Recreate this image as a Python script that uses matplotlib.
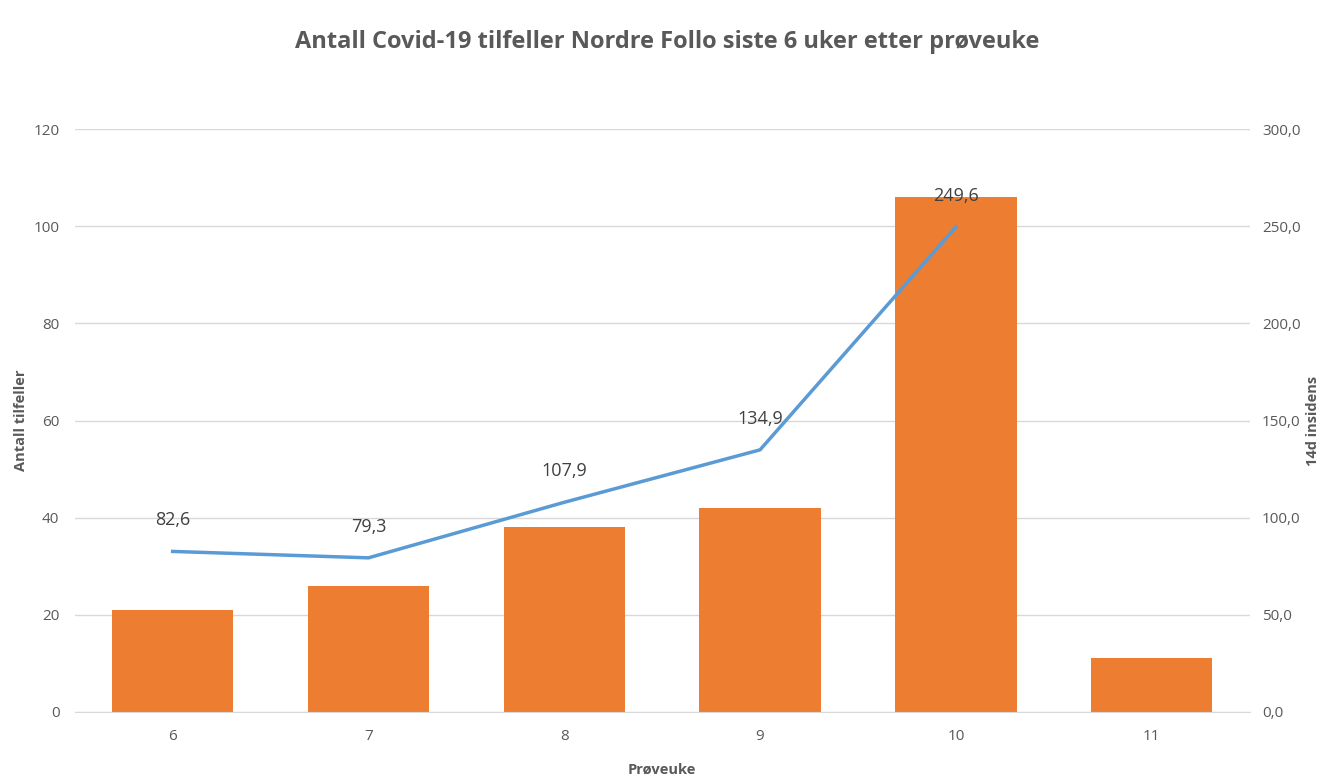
import numpy as np
import matplotlib.pyplot as plt

# Data
uker = ["6", "7", "8", "9", "10", "11"]
tilfeller = [21, 26, 38, 42, 106, 11]
insidens = [82.6, 79.3, 107.9, 134.9, 249.6]

grå = "#595959"
plt.rcParams['font.family'] = ['Open Sans', 'DejaVu Sans']

fig = plt.figure(figsize=(13.35, 7.78), dpi=100)
ax = fig.add_axes([0.056, 0.085, 0.880, 0.749])
ax2 = ax.twinx()

x = np.arange(len(uker))
ax.bar(x, tilfeller, width=0.62, color="#ed7d31", zorder=2)
ax.set_ylim(0, 120)
ax.set_yticks(range(0, 121, 20))
ax.set_xlim(-0.5, len(uker) - 0.5)
ax.set_xticks(x)
ax.set_xticklabels(uker)
ax.grid(axis="y", color="#d9d9d9", linewidth=1, zorder=0)
ax.set_axisbelow(True)

xl = x[:len(insidens)]
ax2.plot(xl, insidens, color="#5b9bd5", linewidth=2.5, zorder=3)
for xi, v in zip(xl, insidens):
    ax2.annotate(f"{v:.1f}".replace(".", ","), (xi, v), xytext=(0, 16),
                 textcoords="offset points", ha="center", va="bottom",
                 fontsize=13, color="#404040")
ax2.set_ylim(0, 300)
ax2.set_yticks(range(0, 301, 50))
ax2.set_yticklabels([f"{t},0" for t in range(0, 301, 50)])

for a in (ax, ax2):
    for s in a.spines.values():
        s.set_visible(False)
    a.tick_params(length=0, colors=grå, labelsize=11)
ax.spines["bottom"].set_visible(True)
ax.spines["bottom"].set_color("#d9d9d9")
ax.tick_params(axis="y", pad=11)
ax2.tick_params(axis="y", pad=9)
ax.tick_params(axis="x", pad=12)

ax.set_xlabel("Prøveuke", fontsize=10.5, fontweight="bold", color=grå, labelpad=14)
ax.set_ylabel("Antall tilfeller", fontsize=10.5, fontweight="bold", color=grå, labelpad=4)
ax2.set_ylabel("14d insidens", fontsize=10.5, fontweight="bold", color=grå, labelpad=4)

fig.suptitle("Antall Covid-19 tilfeller Nordre Follo siste 6 uker etter prøveuke",
             fontsize=17, fontweight="bold", color=grå, y=0.962)

fig.savefig("out.png", dpi=100)
